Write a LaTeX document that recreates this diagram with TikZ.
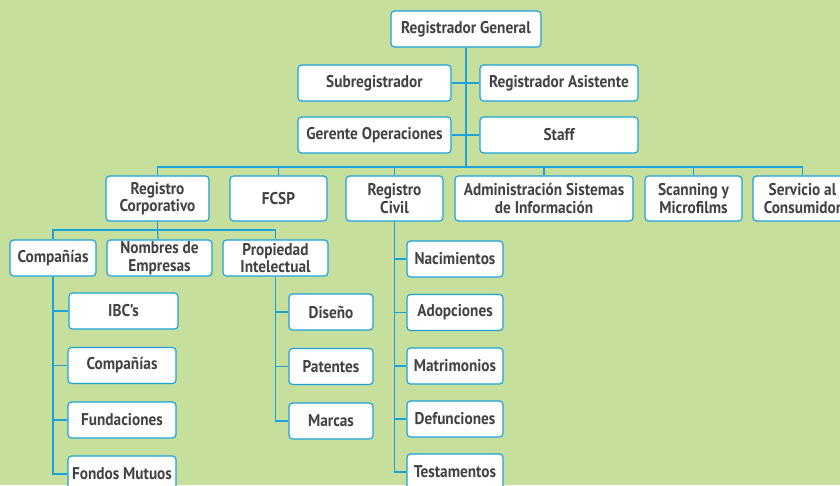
\documentclass[tikz,border=0pt]{standalone}
\usepackage{fontspec}
\setmainfont{PT Sans}[FakeStretch=0.9]
\usepackage{tikz}

\definecolor{bgcol}{HTML}{C6DF9C}
\definecolor{linecol}{HTML}{1BA3D9}
\definecolor{txtcol}{HTML}{424242}

\tikzset{
  unit/.style={draw=linecol, fill=white, line width=1.2pt, rounded corners=3.5pt,
    inner sep=0pt, align=center, text=txtcol,
    font=\fontsize{17}{17.5}\selectfont\bfseries, minimum height=36pt},
  tall/.style={unit, minimum height=45pt},
  link/.style={draw=linecol, line width=1.2pt}
}

\begin{document}
\begin{tikzpicture}[x=1pt,y=-1pt]
  \useasboundingbox (0,0) rectangle (840,485);
  \fill[bgcol] (0,0) rectangle (840,485);
  \clip (0,0) rectangle (840,485);

  \node[unit, minimum width=150pt] (rg) at (466,29) {Registrador General};
  \node[unit, minimum width=153pt] (sub) at (374.5,83) {Subregistrador};
  \node[unit, minimum width=158pt] (ra) at (559,83) {Registrador Asistente};
  \node[unit, minimum width=153pt] (go) at (374.5,135) {Gerente Operaciones};
  \node[unit, minimum width=158pt] (st) at (559,135) {Staff};

  \node[tall, minimum width=103pt] (rcorp) at (157.5,198.5) {Registro\\Corporativo};
  \node[tall, minimum width=97pt] (fcsp) at (278.5,198.5) {FCSP};
  \node[tall, minimum width=97pt] (rciv) at (394.5,198.5) {Registro\\Civil};
  \node[tall, minimum width=178pt] (asi) at (544,198.5) {Administración Sistemas\\de Información};
  \node[tall, minimum width=97pt] (scan) at (693.5,198.5) {Scanning y\\Microfilms};
  \node[tall, minimum width=99pt] (serv) at (802.5,198.5) {Servicio al\\Consumidor};

  \node[unit, minimum width=86pt] (comp) at (53,258) {Compañías};
  \node[unit, minimum width=105pt] (nom) at (159.5,258) {Nombres de\\Empresas};
  \node[unit, minimum width=105pt] (prop) at (275.5,258) {Propiedad\\Intelectual};

  \node[unit, minimum width=109pt] (ibc) at (123.5,311) {IBC’s};
  \node[unit, minimum width=108pt] (comp2) at (122,365.5) {Compañías};
  \node[unit, minimum width=108pt] (fund) at (122,420) {Fundaciones};
  \node[unit, minimum width=108pt] (fond) at (122,474) {Fondos Mutuos};

  \node[unit, minimum width=84pt] (dis) at (331,312) {Diseño};
  \node[unit, minimum width=84pt] (pat) at (331,366.5) {Patentes};
  \node[unit, minimum width=84pt] (mar) at (331,421) {Marcas};

  \node[unit, minimum width=96pt] (nac) at (455,259) {Nacimientos};
  \node[unit, minimum width=96pt] (ado) at (455,312.5) {Adopciones};
  \node[unit, minimum width=96pt] (mat) at (455,366) {Matrimonios};
  \node[unit, minimum width=96pt] (def) at (455,419) {Defunciones};
  \node[unit, minimum width=96pt] (tes) at (455,472) {Testamentos};

  \coordinate (bus) at (466,167);
  \coordinate (bus2) at (157.5,230);

  \draw[link] (rg) -- (bus);
  \draw[link] (sub) -- (ra);
  \draw[link] (go) -- (st);
  \draw[link] (bus) -| (rcorp);
  \draw[link] (bus) -| (fcsp);
  \draw[link] (bus) -| (rciv);
  \draw[link] (bus) -| (asi);
  \draw[link] (bus) -| (scan);
  \draw[link] (bus) -| (serv);

  \draw[link] (rcorp) -- (bus2);
  \draw[link] (bus2) -| (comp);
  \draw[link] (bus2) -- (nom);
  \draw[link] (bus2) -| (prop);

  \draw[link] (comp) |- (ibc);
  \draw[link] (comp) |- (comp2);
  \draw[link] (comp) |- (fund);
  \draw[link] (comp) |- (fond);

  \draw[link] (prop) |- (dis);
  \draw[link] (prop) |- (pat);
  \draw[link] (prop) |- (mar);

  \draw[link] (rciv) |- (nac);
  \draw[link] (rciv) |- (ado);
  \draw[link] (rciv) |- (mat);
  \draw[link] (rciv) |- (def);
  \draw[link] (rciv) |- (tes);
\end{tikzpicture}
\end{document}
